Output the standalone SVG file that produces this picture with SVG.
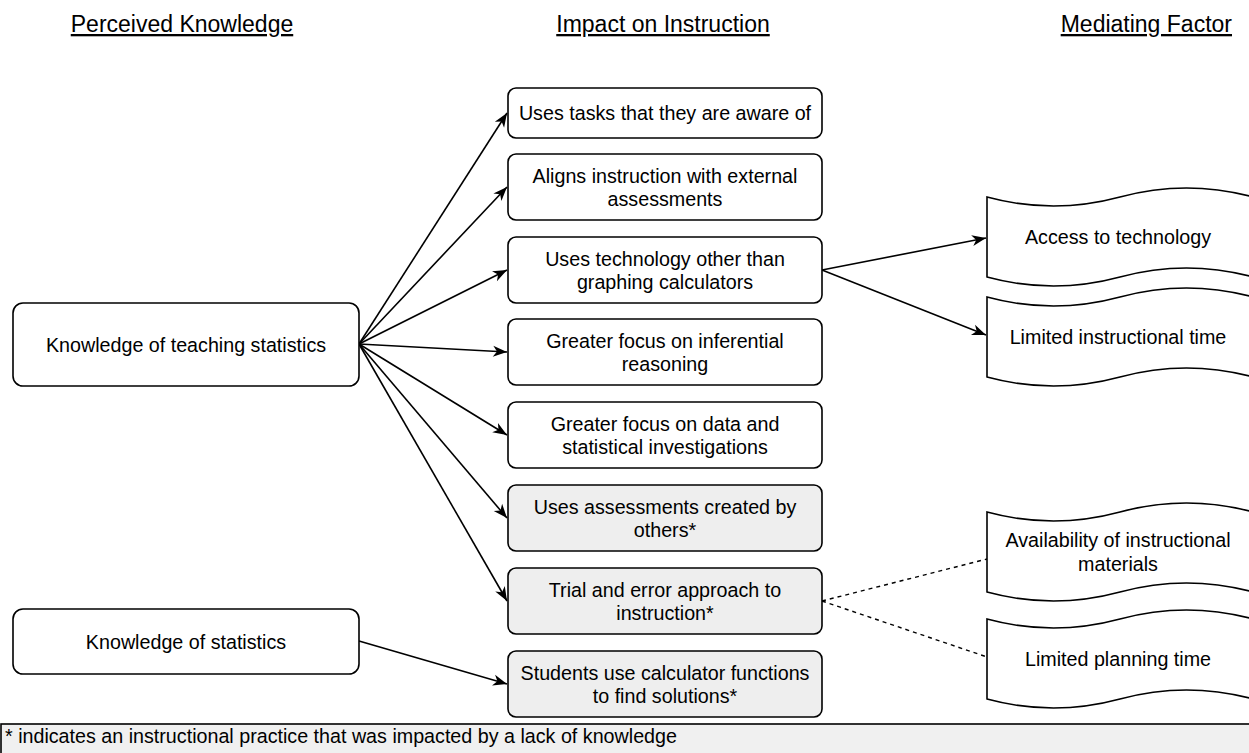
<svg xmlns="http://www.w3.org/2000/svg" xmlns:xlink="http://www.w3.org/1999/xlink" width="1249" height="753" viewBox="0 0 1249 753">
  <style>
    text { font-family: "Liberation Sans", Arial, sans-serif; font-size: 19.7px; fill: #000; }
    .hdr { font-size: 23px; text-anchor: middle; text-decoration: underline; }
    .c { text-anchor: middle; }
    .box { fill: #ffffff; stroke: #000; stroke-width: 1.6; }
    .gray { fill: #eeeeee; }
    .tape { fill: #ffffff; stroke: #000; stroke-width: 1.6; }
    .edge { fill: none; stroke: #000; stroke-width: 1.6; marker-end: url(#arrow); }
    .dash { fill: none; stroke: #000; stroke-width: 1.4; stroke-dasharray: 4 4; }
  </style>
  <defs>
    <marker id="arrow" markerUnits="userSpaceOnUse" markerWidth="16" markerHeight="14" refX="15" refY="7" orient="auto">
      <path d="M15,7 L1,1.5 L5,7 L1,12.5 Z" fill="#000"/>
    </marker>
    <!-- wavy tape outline, 266 x 100 (right side runs past the page edge) -->
    <path id="tapeShape" class="tape" d="M0,10 Q66.5,28 133,10 Q199.5,-8 266,10 L266,90 Q199.5,72 133,90 Q66.5,108 0,90 Z"/>
  </defs>

  <rect width="1249" height="753" fill="#ffffff"/>

  <!-- column headings -->
  <g id="headings">
    <text class="hdr" x="182" y="32">Perceived Knowledge</text>
    <text class="hdr" x="663" y="32">Impact on Instruction</text>
    <text class="hdr" x="1232" y="32" style="text-anchor:end">Mediating Factor</text>
  </g>

  <!-- connectors -->
  <g id="connectors">
    <line class="edge" x1="359" y1="344" x2="507" y2="113"/>
    <line class="edge" x1="359" y1="344" x2="507" y2="187"/>
    <line class="edge" x1="359" y1="344" x2="507" y2="270"/>
    <line class="edge" x1="359" y1="344" x2="507" y2="352"/>
    <line class="edge" x1="359" y1="344" x2="507" y2="435"/>
    <line class="edge" x1="359" y1="344" x2="507" y2="518"/>
    <line class="edge" x1="359" y1="344" x2="507" y2="601"/>
    <line class="edge" x1="359" y1="641" x2="507" y2="684"/>
    <line class="edge" x1="822" y1="270" x2="986" y2="238"/>
    <line class="edge" x1="822" y1="270" x2="986" y2="335"/>
    <line class="dash" x1="822" y1="601" x2="987" y2="559"/>
    <line class="dash" x1="822" y1="601" x2="987" y2="657"/>
  </g>

  <!-- perceived knowledge -->
  <g id="k-teaching">
    <rect class="box" x="13" y="303" width="346" height="83" rx="10"/>
    <text class="c" x="186" y="351.5">Knowledge of teaching statistics</text>
  </g>
  <g id="k-statistics">
    <rect class="box" x="13" y="609" width="346" height="65" rx="10"/>
    <text class="c" x="186" y="648.5">Knowledge of statistics</text>
  </g>

  <!-- impact on instruction -->
  <g id="i-tasks">
    <rect class="box" x="508" y="88" width="314" height="50" rx="8"/>
    <text class="c" x="665" y="120">Uses tasks that they are aware of</text>
  </g>
  <g id="i-align">
    <rect class="box" x="508" y="154" width="314" height="66" rx="8"/>
    <text class="c" x="665" y="182.5">Aligns instruction with external</text>
    <text class="c" x="665" y="206">assessments</text>
  </g>
  <g id="i-tech">
    <rect class="box" x="508" y="237" width="314" height="66" rx="8"/>
    <text class="c" x="665" y="265.5">Uses technology other than</text>
    <text class="c" x="665" y="289">graphing calculators</text>
  </g>
  <g id="i-inferential">
    <rect class="box" x="508" y="319" width="314" height="66" rx="8"/>
    <text class="c" x="665" y="347.5">Greater focus on inferential</text>
    <text class="c" x="665" y="371">reasoning</text>
  </g>
  <g id="i-data">
    <rect class="box" x="508" y="402" width="314" height="66" rx="8"/>
    <text class="c" x="665" y="430.5">Greater focus on data and</text>
    <text class="c" x="665" y="454">statistical investigations</text>
  </g>
  <g id="i-assessments">
    <rect class="box gray" x="508" y="485" width="314" height="66" rx="8"/>
    <text class="c" x="665" y="513.5">Uses assessments created by</text>
    <text class="c" x="665" y="537">others*</text>
  </g>
  <g id="i-trial">
    <rect class="box gray" x="508" y="568" width="314" height="66" rx="8"/>
    <text class="c" x="665" y="596.5">Trial and error approach to</text>
    <text class="c" x="665" y="620">instruction*</text>
  </g>
  <g id="i-calculator">
    <rect class="box gray" x="508" y="651" width="314" height="66" rx="8"/>
    <text class="c" x="665" y="679.5">Students use calculator functions</text>
    <text class="c" x="665" y="703">to find solutions*</text>
  </g>

  <!-- mediating factors -->
  <g id="m-access">
    <use xlink:href="#tapeShape" x="987" y="187"/>
    <text class="c" x="1118" y="244">Access to technology</text>
  </g>
  <g id="m-time">
    <use xlink:href="#tapeShape" x="987" y="287"/>
    <text class="c" x="1118" y="344">Limited instructional time</text>
  </g>
  <g id="m-materials">
    <use xlink:href="#tapeShape" x="987" y="502"/>
    <text class="c" x="1118" y="547">Availability of instructional</text>
    <text class="c" x="1118" y="570.5">materials</text>
  </g>
  <g id="m-planning">
    <use xlink:href="#tapeShape" x="987" y="609"/>
    <text class="c" x="1118" y="666">Limited planning time</text>
  </g>

  <!-- legend -->
  <g id="legend">
    <rect x="1" y="724" width="1262" height="40" fill="#f0f0f0" stroke="#000" stroke-width="1.6"/>
    <text x="5" y="743">* indicates an instructional practice that was impacted by a lack of knowledge</text>
  </g>
</svg>
